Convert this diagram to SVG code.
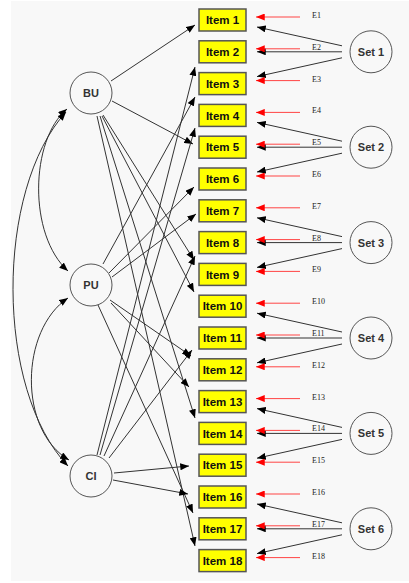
<svg xmlns="http://www.w3.org/2000/svg" width="409" height="583" viewBox="0 0 409 583">
<defs>
<marker id="ah" viewBox="0 0 10 8" refX="10" refY="4" markerWidth="9" markerHeight="7" orient="auto-start-reverse" markerUnits="userSpaceOnUse"><path d="M0,0 L10,4 L0,8 z" fill="#000"/></marker>
<marker id="rh" viewBox="0 0 10 8" refX="10" refY="4" markerWidth="9" markerHeight="7" orient="auto" markerUnits="userSpaceOnUse"><path d="M0,0 L10,4 L0,8 z" fill="#f00"/></marker>
</defs>
<style>
.bg{fill:#f8f8f8}
.item rect{fill:#ffff00;stroke:#555;stroke-width:1.5}
.item text{font-family:"Liberation Sans",Arial,sans-serif;font-weight:bold;font-size:11.5px;fill:#111;text-anchor:middle}
.lat circle{fill:none;stroke:#555;stroke-width:1}
.lat text{font-family:"Liberation Sans",Arial,sans-serif;font-weight:bold;font-size:11px;fill:#333;text-anchor:middle}
.err text{font-family:"Liberation Serif","Times New Roman",serif;font-size:8px;fill:#222}
.c line,.c path{stroke:#333;stroke-width:1;fill:none;marker-end:url(#ah)}
.c path.dbl{marker-start:url(#ah)}
.r line{stroke:#f44;stroke-width:1;marker-end:url(#rh)}
</style>
<rect class="bg" x="11" y="1" width="398" height="580"/>
<g id="connectors" class="c">
<path class="dbl" d="M67,109 C30,140 28,235 68,271"/>
<path class="dbl" d="M68,298 C20,330 18,430 69,460"/>
<path class="dbl" d="M66,112 C-5,190 -5,390 68,466"/>
<line x1="111" y1="81" x2="195" y2="25"/>
<line x1="112" y1="101" x2="193" y2="144"/>
<line x1="103" y1="115" x2="194" y2="260"/>
<line x1="102" y1="116" x2="194" y2="292"/>
<line x1="100" y1="116" x2="195" y2="418"/>
<line x1="97" y1="116" x2="195" y2="546"/>
<line x1="103" y1="264" x2="195" y2="97"/>
<line x1="109" y1="273" x2="194" y2="187"/>
<line x1="112" y1="277" x2="196" y2="214"/>
<line x1="110" y1="300" x2="191" y2="356"/>
<line x1="111" y1="303" x2="189" y2="387"/>
<line x1="98" y1="305" x2="193" y2="513"/>
<line x1="97" y1="455" x2="195" y2="67"/>
<line x1="100" y1="455" x2="195" y2="128"/>
<line x1="104" y1="456" x2="195" y2="256"/>
<line x1="109" y1="458" x2="192" y2="350"/>
<line x1="114" y1="473" x2="189" y2="466"/>
<line x1="113" y1="480" x2="188" y2="494"/>
<line x1="342" y1="45.8" x2="257" y2="27"/>
<line x1="342" y1="51.8" x2="257" y2="51.8"/>
<line x1="342" y1="57.8" x2="257" y2="76.6"/>
<line x1="342" y1="141.2" x2="257" y2="122.4"/>
<line x1="342" y1="147.2" x2="257" y2="147.2"/>
<line x1="342" y1="153.2" x2="257" y2="172"/>
<line x1="342" y1="236.6" x2="257" y2="217.8"/>
<line x1="342" y1="242.6" x2="257" y2="242.6"/>
<line x1="342" y1="248.6" x2="257" y2="267.4"/>
<line x1="342" y1="332" x2="257" y2="313.2"/>
<line x1="342" y1="338" x2="257" y2="338"/>
<line x1="342" y1="344" x2="257" y2="362.8"/>
<line x1="342" y1="427.4" x2="257" y2="408.6"/>
<line x1="342" y1="433.4" x2="257" y2="433.4"/>
<line x1="342" y1="439.4" x2="257" y2="458.2"/>
<line x1="342" y1="522.8" x2="257" y2="504"/>
<line x1="342" y1="528.8" x2="257" y2="528.8"/>
<line x1="342" y1="534.8" x2="257" y2="553.6"/>
</g>
<g id="errors" class="r">
<line x1="300" y1="17" x2="256" y2="17"/>
<line x1="300" y1="48.8" x2="256" y2="48.8"/>
<line x1="300" y1="80.6" x2="256" y2="80.6"/>
<line x1="300" y1="112.4" x2="256" y2="112.4"/>
<line x1="300" y1="144.2" x2="256" y2="144.2"/>
<line x1="300" y1="176" x2="256" y2="176"/>
<line x1="300" y1="207.8" x2="256" y2="207.8"/>
<line x1="300" y1="239.6" x2="256" y2="239.6"/>
<line x1="300" y1="271.4" x2="256" y2="271.4"/>
<line x1="300" y1="303.2" x2="256" y2="303.2"/>
<line x1="300" y1="335" x2="256" y2="335"/>
<line x1="300" y1="366.8" x2="256" y2="366.8"/>
<line x1="300" y1="398.6" x2="256" y2="398.6"/>
<line x1="300" y1="430.4" x2="256" y2="430.4"/>
<line x1="300" y1="462.2" x2="256" y2="462.2"/>
<line x1="300" y1="494" x2="256" y2="494"/>
<line x1="300" y1="525.8" x2="256" y2="525.8"/>
<line x1="300" y1="557.6" x2="256" y2="557.6"/>
</g>
<g id="errlabels" class="err">
<text id="E1" x="312" y="18">E1</text>
<text id="E2" x="312" y="49.8">E2</text>
<text id="E3" x="312" y="81.6">E3</text>
<text id="E4" x="312" y="113.4">E4</text>
<text id="E5" x="312" y="145.2">E5</text>
<text id="E6" x="312" y="177">E6</text>
<text id="E7" x="312" y="208.8">E7</text>
<text id="E8" x="312" y="240.6">E8</text>
<text id="E9" x="312" y="272.4">E9</text>
<text id="E10" x="312" y="304.2">E10</text>
<text id="E11" x="312" y="336">E11</text>
<text id="E12" x="312" y="367.8">E12</text>
<text id="E13" x="312" y="399.6">E13</text>
<text id="E14" x="312" y="431.4">E14</text>
<text id="E15" x="312" y="463.2">E15</text>
<text id="E16" x="312" y="495">E16</text>
<text id="E17" x="312" y="526.8">E17</text>
<text id="E18" x="312" y="558.6">E18</text>
</g>
<g id="item1" class="item"><rect x="199" y="9" width="47" height="22"/><text x="222.5" y="24.2">Item 1</text></g>
<g id="item2" class="item"><rect x="199" y="40.8" width="47" height="22"/><text x="222.5" y="56">Item 2</text></g>
<g id="item3" class="item"><rect x="199" y="72.6" width="47" height="22"/><text x="222.5" y="87.8">Item 3</text></g>
<g id="item4" class="item"><rect x="199" y="104.4" width="47" height="22"/><text x="222.5" y="119.6">Item 4</text></g>
<g id="item5" class="item"><rect x="199" y="136.2" width="47" height="22"/><text x="222.5" y="151.4">Item 5</text></g>
<g id="item6" class="item"><rect x="199" y="168" width="47" height="22"/><text x="222.5" y="183.2">Item 6</text></g>
<g id="item7" class="item"><rect x="199" y="199.8" width="47" height="22"/><text x="222.5" y="215">Item 7</text></g>
<g id="item8" class="item"><rect x="199" y="231.6" width="47" height="22"/><text x="222.5" y="246.8">Item 8</text></g>
<g id="item9" class="item"><rect x="199" y="263.4" width="47" height="22"/><text x="222.5" y="278.6">Item 9</text></g>
<g id="item10" class="item"><rect x="199" y="295.2" width="47" height="22"/><text x="222.5" y="310.4">Item 10</text></g>
<g id="item11" class="item"><rect x="199" y="327" width="47" height="22"/><text x="222.5" y="342.2">Item 11</text></g>
<g id="item12" class="item"><rect x="199" y="358.8" width="47" height="22"/><text x="222.5" y="374">Item 12</text></g>
<g id="item13" class="item"><rect x="199" y="390.6" width="47" height="22"/><text x="222.5" y="405.8">Item 13</text></g>
<g id="item14" class="item"><rect x="199" y="422.4" width="47" height="22"/><text x="222.5" y="437.6">Item 14</text></g>
<g id="item15" class="item"><rect x="199" y="454.2" width="47" height="22"/><text x="222.5" y="469.4">Item 15</text></g>
<g id="item16" class="item"><rect x="199" y="486" width="47" height="22"/><text x="222.5" y="501.2">Item 16</text></g>
<g id="item17" class="item"><rect x="199" y="517.8" width="47" height="22"/><text x="222.5" y="533">Item 17</text></g>
<g id="item18" class="item"><rect x="199" y="549.6" width="47" height="22"/><text x="222.5" y="564.8">Item 18</text></g>
<g id="BU" class="lat"><circle cx="91" cy="93" r="21"/><text x="91" y="97">BU</text></g>
<g id="PU" class="lat"><circle cx="91" cy="285" r="21"/><text x="91" y="289">PU</text></g>
<g id="CI" class="lat"><circle cx="91" cy="476" r="21"/><text x="91" y="480">CI</text></g>
<g id="set1" class="lat"><circle cx="371" cy="51.8" r="21"/><text x="371" y="55.8">Set 1</text></g>
<g id="set2" class="lat"><circle cx="371" cy="147.2" r="21"/><text x="371" y="151.2">Set 2</text></g>
<g id="set3" class="lat"><circle cx="371" cy="242.6" r="21"/><text x="371" y="246.6">Set 3</text></g>
<g id="set4" class="lat"><circle cx="371" cy="338" r="21"/><text x="371" y="342">Set 4</text></g>
<g id="set5" class="lat"><circle cx="371" cy="433.4" r="21"/><text x="371" y="437.4">Set 5</text></g>
<g id="set6" class="lat"><circle cx="371" cy="528.8" r="21"/><text x="371" y="532.8">Set 6</text></g>
</svg>
